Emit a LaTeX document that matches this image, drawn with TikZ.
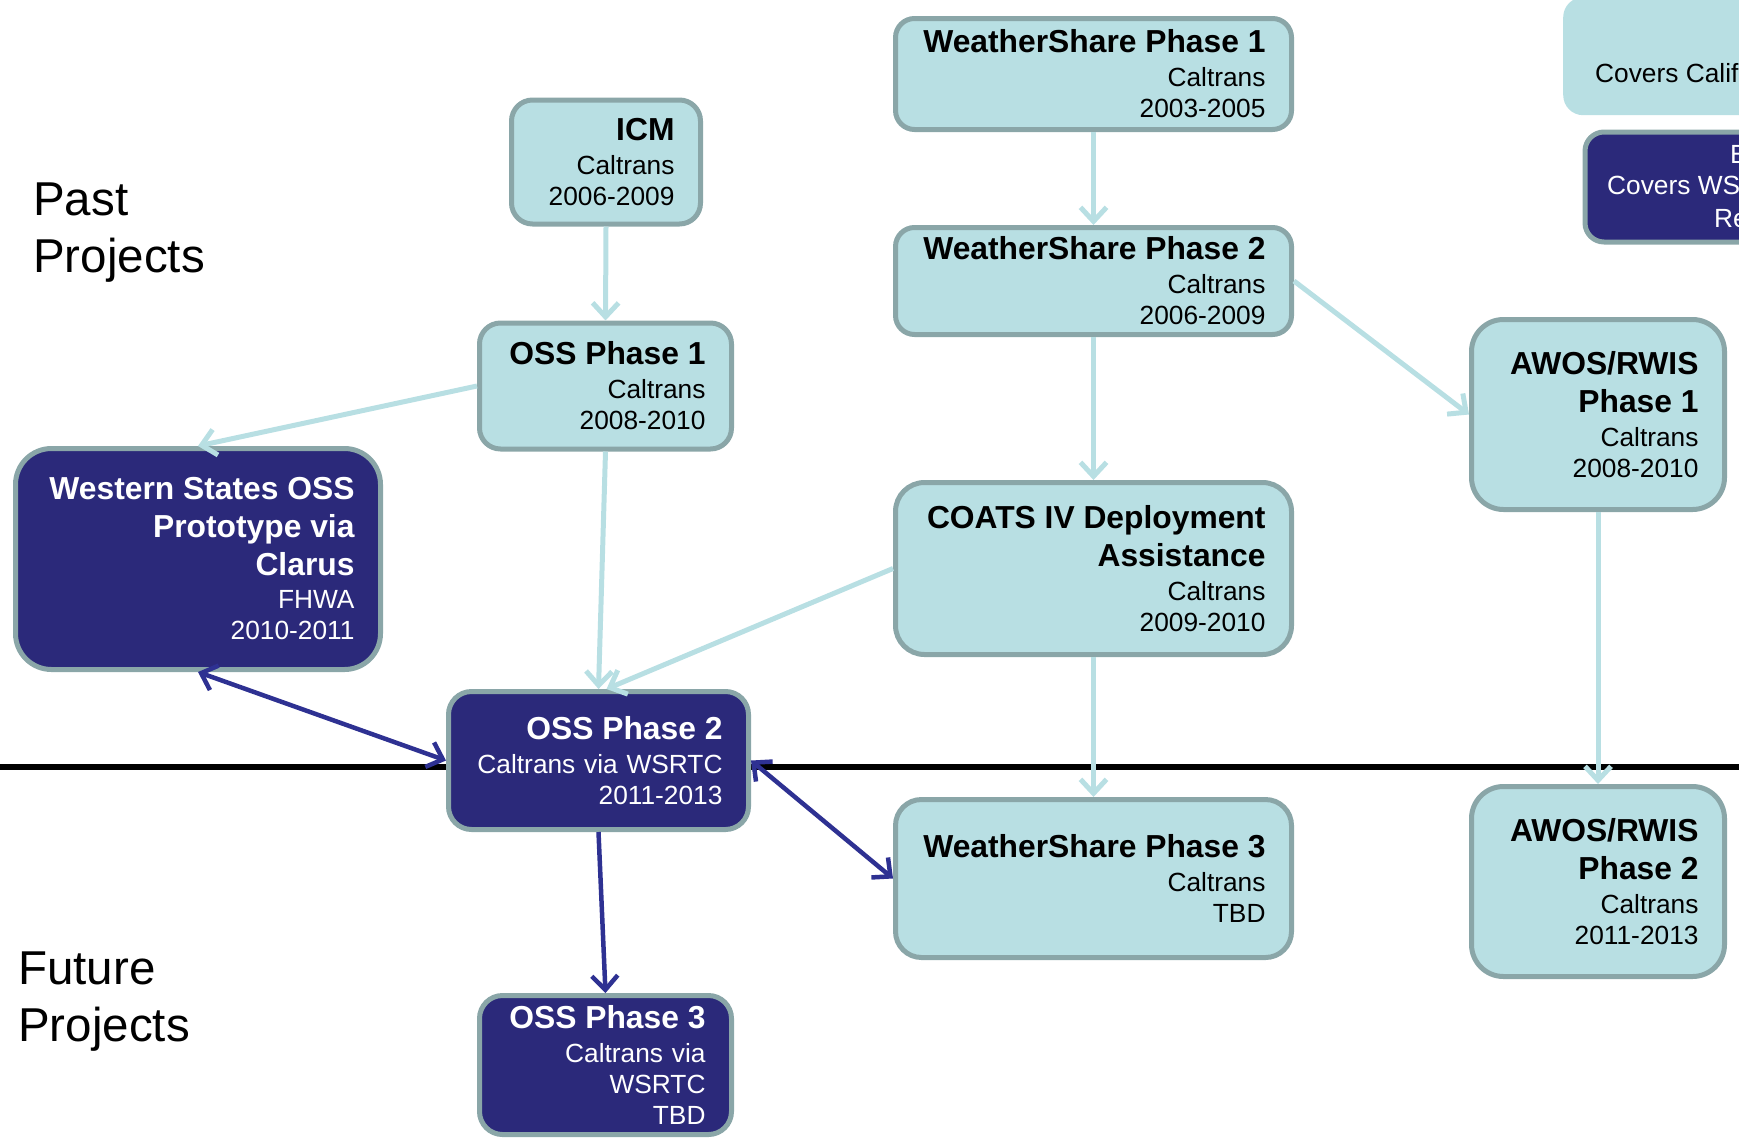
\documentclass[tikz,border=0pt]{standalone}
\usepackage{fontspec}
\setmainfont{Liberation Sans}
\usetikzlibrary{arrows.meta}
\definecolor{lightfill}{RGB}{184,223,227}
\definecolor{bordc}{RGB}{138,166,168}
\definecolor{darkfill}{RGB}{43,41,122}
\definecolor{darkarr}{RGB}{46,49,146}
\newcommand{\ttl}[1]{{\fontsize{31.8}{31}\selectfont\bfseries #1}}
\begin{document}
\begin{tikzpicture}[x=1pt,y=-1pt,
  pbox/.style={draw=bordc, line width=5pt, inner xsep=26pt, inner ysep=0pt, align=right,
    font=\fontsize{26.3}{31}\selectfont},
  lbox/.style={pbox, fill=lightfill, text=black},
  dbox/.style={pbox, fill=darkfill, text=white},
  bigtext/.style={inner sep=0pt, anchor=north west, align=left, font=\fontsize{47.5}{57}\selectfont},
  cuttext/.style={inner sep=0pt, anchor=base west, font=\fontsize{26.3}{31}\selectfont},
  larr/.style={draw=lightfill, line width=5pt, -{Straight Barb[length=14pt,width=26pt]}},
  darr/.style={draw=darkarr, line width=4.5pt, {Straight Barb[length=14pt,width=26pt]}-{Straight Barb[length=14pt,width=26pt]}},
  darr1/.style={draw=darkarr, line width=4.5pt, -{Straight Barb[length=14pt,width=26pt]}}
]
\useasboundingbox (0,0) rectangle (1739,1146);
\clip (0,0) rectangle (1739,1146);

% divider
\coordinate (L) at (0,767);
\coordinate (R) at (1739,767);
\draw[line width=5.5pt, black] (L) -- (R);

% side labels
\node[bigtext] (past) at (33,183) {Past\\Projects};
\node[bigtext] (future) at (18,952) {Future\\Projects};

% top-right partial boxes
\node[fill=lightfill, draw=none, rounded corners=20pt, minimum width=300pt, minimum height=118pt,
  anchor=north west, inner sep=0pt] (tra) at (1563,-3) {};
\node[cuttext, text=black] (tratext) at (1595,82) {Covers Calif};
\node[draw=bordc, line width=5pt, fill=darkfill, rounded corners=19pt, minimum width=300pt, minimum height=110pt,
  anchor=north west, inner sep=0pt] (trb) at (1582.5,129.5) {};
\node[cuttext, text=white] (trb1) at (1730,163) {E};
\node[cuttext, text=white] (trb2) at (1607,194) {Covers WS};
\node[cuttext, text=white] (trb3) at (1714,227) {Re};

% boxes
\node[lbox, minimum width=189pt, minimum height=124pt, text width=137pt, rounded corners=21pt]
  (icm) at (606,162) {\ttl{ICM}\\[3pt]Caltrans\\2006-2009};
\node[lbox, minimum width=396pt, minimum height=111pt, text width=344pt, rounded corners=19pt]
  (ws1) at (1093.5,74) {\ttl{WeatherShare Phase 1}\\[3pt]Caltrans\\2003-2005};
\node[lbox, minimum width=396pt, minimum height=107pt, text width=344pt, rounded corners=19pt]
  (ws2) at (1093.5,281) {\ttl{WeatherShare Phase 2}\\[3pt]Caltrans\\2006-2009};
\node[lbox, minimum width=252pt, minimum height=126pt, text width=200pt, rounded corners=21pt]
  (oss1) at (605.5,386) {\ttl{OSS Phase 1}\\[3pt]Caltrans\\2008-2010};
\node[dbox, minimum width=365pt, minimum height=221pt, text width=313pt, rounded corners=36pt]
  (west) at (198,559) {\ttl{Western States OSS}\\[7pt]\ttl{Prototype via}\\[7pt]\ttl{Clarus}\\[2pt]FHWA\\2010-2011};
\node[lbox, minimum width=396pt, minimum height=172pt, text width=344pt, rounded corners=29pt]
  (coats) at (1093.5,568.5) {\ttl{COATS IV Deployment}\\[7pt]\ttl{Assistance}\\[3pt]Caltrans\\2009-2010};
\node[dbox, minimum width=300pt, minimum height=138pt, text width=248pt, rounded corners=23pt]
  (oss2) at (598.5,760.5) {\ttl{OSS Phase 2}\\[3pt]Caltrans via WSRTC\\2011-2013};
\node[lbox, minimum width=396pt, minimum height=158pt, text width=344pt, rounded corners=26pt]
  (ws3) at (1093.5,878.5) {\ttl{WeatherShare Phase 3}\\[3pt]Caltrans\\TBD};
\node[lbox, minimum width=253pt, minimum height=190pt, text width=201pt, rounded corners=32pt]
  (awos1) at (1598,414.5) {\ttl{AWOS/RWIS}\\[7pt]\ttl{Phase 1}\\[3pt]Caltrans\\2008-2010};
\node[lbox, minimum width=253pt, minimum height=190pt, text width=201pt, rounded corners=32pt]
  (awos2) at (1598,881.5) {\ttl{AWOS/RWIS}\\[7pt]\ttl{Phase 2}\\[3pt]Caltrans\\2011-2013};
\node[dbox, minimum width=252pt, minimum height=139pt, text width=200pt, rounded corners=23pt]
  (oss3) at (605.5,1065) {\ttl{OSS Phase 3}\\[3pt]Caltrans via\\WSRTC\\TBD};

% light connectors
\draw[larr] (icm.south) -- (oss1.north);
\draw[larr] (ws1.south) -- (ws2.north);
\draw[larr] (ws2.south) -- (coats.north);
\draw[larr] (ws2.east) -- (awos1.west);
\draw[larr] (oss1.west) -- (west.north);
\draw[larr] (oss1.south) -- (oss2.north);
\draw[larr] (coats.west) -- ([xshift=8pt]oss2.north);
\draw[larr] (coats.south) -- (ws3.north);
\draw[larr] (awos1.south) -- (awos2.north);

% dark connectors
\draw[darr] (west.south) -- (oss2.west);
\draw[darr] (oss2.east) -- (ws3.west);
\draw[darr1] (oss2.south) -- (oss3.north);
\end{tikzpicture}
\end{document}
